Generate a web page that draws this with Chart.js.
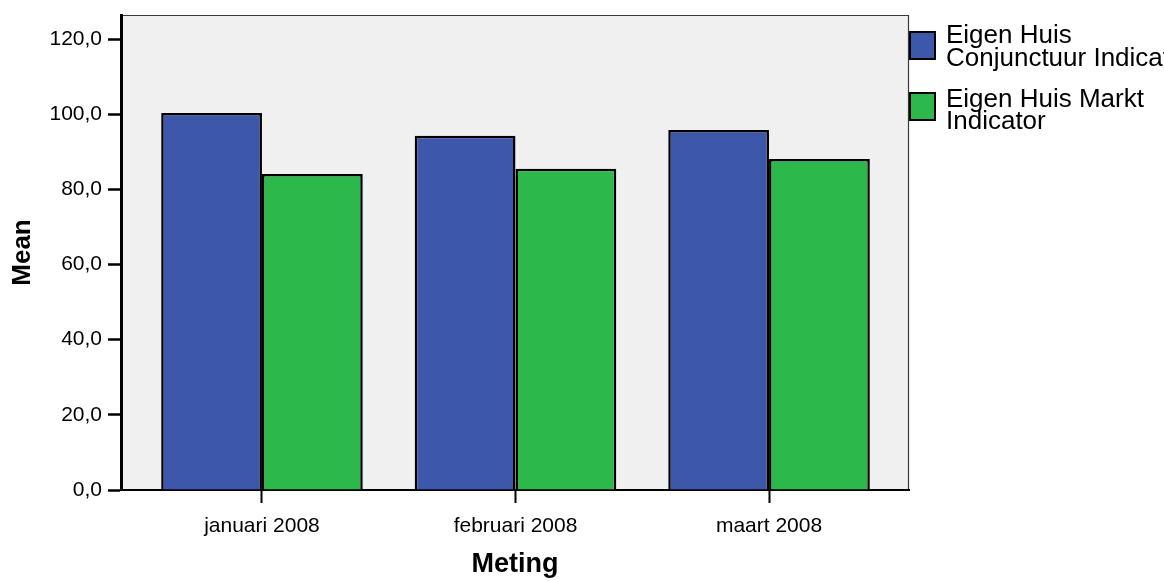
<!DOCTYPE html>
<html>
<head>
<meta charset="utf-8">
<script src="https://cdn.jsdelivr.net/npm/chart.js@4"></script>
<style>
html,body{margin:0;padding:0;background:#fff;}
canvas{display:block;}
</style>
</head>
<body>
<canvas id="c" width="1164" height="581"></canvas>
<script>
const categories = ['januari 2008', 'februari 2008', 'maart 2008'];
const seriesNames = [['Eigen Huis', 'Conjunctuur Indicator'], ['Eigen Huis Markt', 'Indicator']];
const conjunctuur = [100.3, 94.3, 95.8];
const markt = [84.1, 85.5, 88.1];
const yTicks = [0, 20, 40, 60, 80, 100, 120];

const BLUE = '#3d58aa';
const GREEN = '#2db84b';
const FONT = '"Liberation Sans", Arial, sans-serif';

const fmt = v => Number(v).toFixed(1).replace('.', ',');

const bgPlugin = {
  id: 'plotbg',
  beforeDraw(chart) {
    const {ctx, chartArea: a} = chart;
    ctx.save();
    ctx.fillStyle = '#f0f0f0';
    ctx.fillRect(a.left, a.top, a.right - a.left, a.bottom - a.top);
    ctx.strokeStyle = '#3a3a3a';
    ctx.lineWidth = 1.2;
    ctx.beginPath();
    ctx.moveTo(a.left, a.top + 0.5);
    ctx.lineTo(a.right - 0.5, a.top + 0.5);
    ctx.lineTo(a.right - 0.5, a.bottom);
    ctx.stroke();
    ctx.restore();
  }
};

const legendPlugin = {
  id: 'sideLegend',
  afterDraw(chart) {
    const ctx = chart.ctx;
    const colors = [BLUE, GREEN];
    const boxTops = [32, 93];
    const textTops = [43.3, 106.7];
    ctx.save();
    ctx.font = '26px ' + FONT;
    ctx.textBaseline = 'alphabetic';
    ctx.textAlign = 'left';
    seriesNames.forEach((lines, i) => {
      ctx.fillStyle = colors[i];
      ctx.fillRect(910, boxTops[i], 25, 27);
      ctx.strokeStyle = '#000';
      ctx.lineWidth = 2;
      ctx.strokeRect(910, boxTops[i], 25, 27);
      ctx.fillStyle = '#000';
      lines.forEach((t, j) => ctx.fillText(t, 946, textTops[i] + j * 22.5));
    });
    ctx.restore();
  }
};

Chart.defaults.color = '#000';
Chart.defaults.font.family = FONT;

new Chart(document.getElementById('c'), {
  type: 'bar',
  data: {
    datasets: [
      {
        label: seriesNames[0].join(' '),
        data: conjunctuur.map((v, i) => ({x: i, y: v})),
        backgroundColor: BLUE,
        borderColor: '#000',
        borderWidth: 2.5,
        borderSkipped: 'bottom'
      },
      {
        label: seriesNames[1].join(' '),
        data: markt.map((v, i) => ({x: i, y: v})),
        backgroundColor: GREEN,
        borderColor: '#000',
        borderWidth: 2.5,
        borderSkipped: 'bottom'
      }
    ]
  },
  options: {
    responsive: false,
    animation: false,
    devicePixelRatio: 1,
    categoryPercentage: 0.795,
    barPercentage: 1.0,
    layout: {padding: {top: 15, right: 255, left: 0, bottom: 0}},
    plugins: {legend: {display: false}, tooltip: {enabled: false}},
    scales: {
      x: {
        type: 'linear',
        offset: false,
        min: -0.556,
        max: 2.552,
        afterBuildTicks: s => { s.ticks = categories.map((c, i) => ({value: i})); },
        afterFit: s => { s.height = 91; s.paddingLeft = 0; s.paddingRight = 0; },
        ticks: {
          callback: v => categories[v],
          font: {size: 21},
          padding: 11,
          maxRotation: 0,
          autoSkip: false
        },
        grid: {display: true, offset: false, drawOnChartArea: false, drawTicks: true, tickLength: 13, tickColor: '#000', tickWidth: 2},
        border: {display: true, color: '#000', width: 2},
        title: {display: true, text: 'Meting', font: {size: 27, weight: 'bold'}, padding: {top: 0, bottom: 0}}
      },
      y: {
        min: 0,
        max: 126.4,
        afterBuildTicks: s => { s.ticks = yTicks.map(v => ({value: v})); },
        afterFit: s => { s.width = 121; s.paddingTop = 0; s.paddingBottom = 0; },
        ticks: {
          callback: v => fmt(v),
          font: {size: 21},
          padding: 6
        },
        grid: {display: true, drawOnChartArea: false, drawTicks: true, tickLength: 13, tickColor: '#000', tickWidth: 2.5},
        border: {display: true, color: '#000', width: 3},
        title: {display: true, text: 'Mean', font: {size: 26, weight: 'bold'}, padding: {top: 7, bottom: 0}}
      }
    }
  },
  plugins: [bgPlugin, legendPlugin]
});
</script>
</body>
</html>
